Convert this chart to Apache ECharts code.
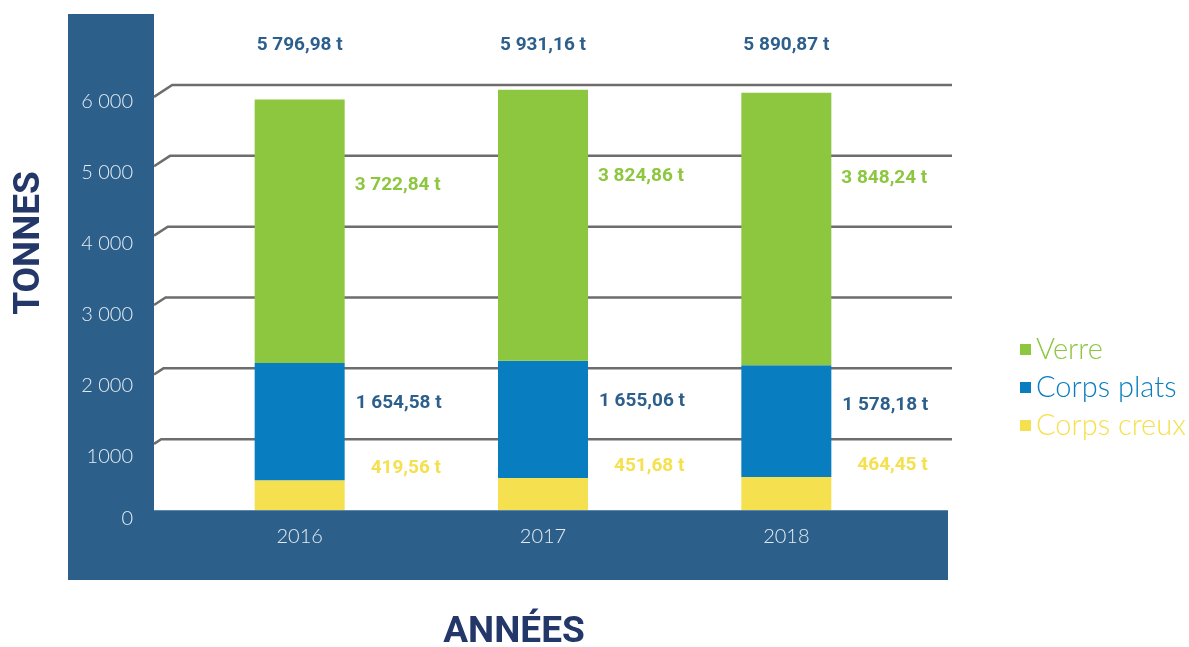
<!DOCTYPE html>
<html>
<head>
<meta charset="utf-8">
<script src="https://cdn.jsdelivr.net/npm/echarts@6/dist/echarts.min.js"></script>
<style>
html,body{margin:0;padding:0;background:#fff;}
#chart{width:1189px;height:647px;}
</style>
</head>
<body>
<div id="chart"></div>
<script>
// ---- data ----
var years = ['2016', '2017', '2018'];
var corpsCreux = [419.56, 451.68, 464.45];
var corpsPlats = [1654.58, 1655.06, 1578.18];
var verre = [3722.84, 3824.86, 3848.24];
var totals = [5796.98, 5931.16, 5890.87];
var gridValues = [1000, 2000, 3000, 4000, 5000, 6000];
var yTickLabels = ['0', '1000', '2 000', '3 000', '4 000', '5 000', '6 000'];
var seriesNames = ['Verre', 'Corps plats', 'Corps creux'];

// ---- styles ----
var C_GREEN = '#8DC63F', C_BLUE = '#087DC0', C_YELLOW = '#F5E04F';
var C_DARK = '#2D5F8C', C_BAND = '#2C5F8A', C_TITLE = '#243769';
var LIGHT_FONT = 'Lato, Roboto, sans-serif';
var BOLD_FONT = 'Roboto, sans-serif';

function fr(v) {
  var s = v.toFixed(2).split('.');
  var ip = s[0].replace(/\B(?=(\d{3})+(?!\d))/g, ' ');
  return ip + ',' + s[1] + ' t';
}

var chart = echarts.init(document.getElementById('chart'), null, {renderer: 'canvas'});

function barLabel(color, pos) {
  return {
    show: true,
    position: pos,
    align: 'left',
    verticalAlign: 'middle',
    color: color,
    fontFamily: BOLD_FONT,
    fontWeight: 700,
    fontSize: 19,
    formatter: function (p) { return fr(p.value); }
  };
}

var option = {
  animation: false,
  backgroundColor: '#ffffff',
  graphic: [
    {type: 'rect', z: -10, shape: {x: 68, y: 14, width: 86, height: 566}, style: {fill: C_BAND}},
    {type: 'rect', z: -10, shape: {x: 68, y: 510, width: 880, height: 70}, style: {fill: C_BAND}},
    {type: 'line', z: -9, shape: {x1: 154, y1: 510.5, x2: 948, y2: 510.5}, style: {stroke: '#5f86ab', lineWidth: 1}},
    {type: 'text', z: 10, x: 30, y: 243, rotation: Math.PI / 2,
      style: {text: 'TONNES', fill: C_TITLE, fontFamily: BOLD_FONT, fontWeight: 700, fontSize: 37, align: 'center', verticalAlign: 'middle'}},
    {type: 'text', z: 10, x: 514, y: 633,
      style: {text: 'ANNÉES', fill: C_TITLE, fontFamily: BOLD_FONT, fontWeight: 700, fontSize: 37, align: 'center', verticalAlign: 'middle'}}
  ],
  legend: {
    orient: 'vertical',
    left: 1015,
    top: 330,
    itemWidth: 11,
    itemHeight: 11,
    itemGap: 9,
    icon: 'rect',
    data: [
      {name: seriesNames[0], textStyle: {color: C_GREEN}},
      {name: seriesNames[1], textStyle: {color: C_BLUE}},
      {name: seriesNames[2], textStyle: {color: C_YELLOW}}
    ],
    textStyle: {fontFamily: LIGHT_FONT, fontWeight: 300, fontSize: 29, padding: [0, 0, 0, 0]}
  },
  grid: [
    {left: 154, width: 798, top: 85, bottom: 137},
    {left: 178, width: 730, top: 85, bottom: 137}
  ],
  xAxis: [
    {type: 'value', gridIndex: 0, min: 0, max: 1, show: false},
    {type: 'category', gridIndex: 1, data: years,
      axisLine: {show: false}, axisTick: {show: false},
      axisLabel: {color: '#e4ecf3', fontFamily: LIGHT_FONT, fontWeight: 300, fontSize: 20, margin: 17}}
  ],
  yAxis: [
    {type: 'value', gridIndex: 0, min: 0, max: 6000, interval: 1000,
      axisLine: {show: false}, axisTick: {show: false}, splitLine: {show: false},
      axisLabel: {
        margin: 21,
        color: '#e4ecf3', fontFamily: LIGHT_FONT, fontWeight: 300, fontSize: 20,
        verticalAlign: 'middle',
        formatter: function (v) {
          var t = yTickLabels[Math.round(v / 1000)];
          return v === 0 ? '{z|' + t + '}' : '{a|' + t + '}';
        },
        rich: {
          a: {color: '#e4ecf3', fontFamily: LIGHT_FONT, fontWeight: 300, fontSize: 20, padding: [34, 0, 0, 0]},
          z: {color: '#e4ecf3', fontFamily: LIGHT_FONT, fontWeight: 300, fontSize: 20, padding: [18, 0, 0, 0]}
        }
      }},
    {type: 'value', gridIndex: 1, min: 0, max: 6000, interval: 1000, show: false, splitLine: {show: false}}
  ],
  series: [
    {
      type: 'custom', name: 'grid', xAxisIndex: 0, yAxisIndex: 0, z: 1, silent: true, clip: false,
      data: gridValues.map(function (v) { return [0, v]; }),
      renderItem: function (params, api) {
        var v = api.value(1);
        var y = api.coord([0, v])[1];
        var cs = params.coordSys;
        var dx = 5 + v / 1000 * 2.2;
        var dy = dx * 0.65;
        return {
          type: 'polyline',
          shape: {points: [[cs.x, y + dy], [cs.x + dx, y], [cs.x + cs.width, y]]},
          style: {stroke: '#6d6d6d', lineWidth: 2.5, fill: null}
        };
      }
    },
    {
      name: seriesNames[2], type: 'bar', stack: 'total', xAxisIndex: 1, yAxisIndex: 1, z: 3,
      barWidth: 90, itemStyle: {color: C_YELLOW}, data: corpsCreux,
      label: barLabel(C_YELLOW, [116, -12])
    },
    {
      name: seriesNames[1], type: 'bar', stack: 'total', xAxisIndex: 1, yAxisIndex: 1, z: 3,
      barWidth: 90, itemStyle: {color: C_BLUE}, data: corpsPlats,
      label: barLabel(C_DARK, [101, 40])
    },
    {
      name: seriesNames[0], type: 'bar', stack: 'total', xAxisIndex: 1, yAxisIndex: 1, z: 3,
      barWidth: 90, itemStyle: {color: C_GREEN}, data: verre,
      label: barLabel(C_GREEN, [100, 86])
    },
    {
      type: 'custom', name: 'totaux', xAxisIndex: 1, yAxisIndex: 1, z: 4, silent: true, clip: false,
      data: totals.map(function (t, i) { return [i, t]; }),
      renderItem: function (params, api) {
        var x = api.coord([api.value(0), 0])[0];
        var y = params.coordSys.y - 40;
        return {
          type: 'text',
          style: {text: fr(api.value(1)), x: x, y: y, fill: C_DARK, fontFamily: BOLD_FONT, fontWeight: 700, fontSize: 19, align: 'center', verticalAlign: 'middle'}
        };
      }
    }
  ]
};
chart.setOption(option);
</script>
</body>
</html>
